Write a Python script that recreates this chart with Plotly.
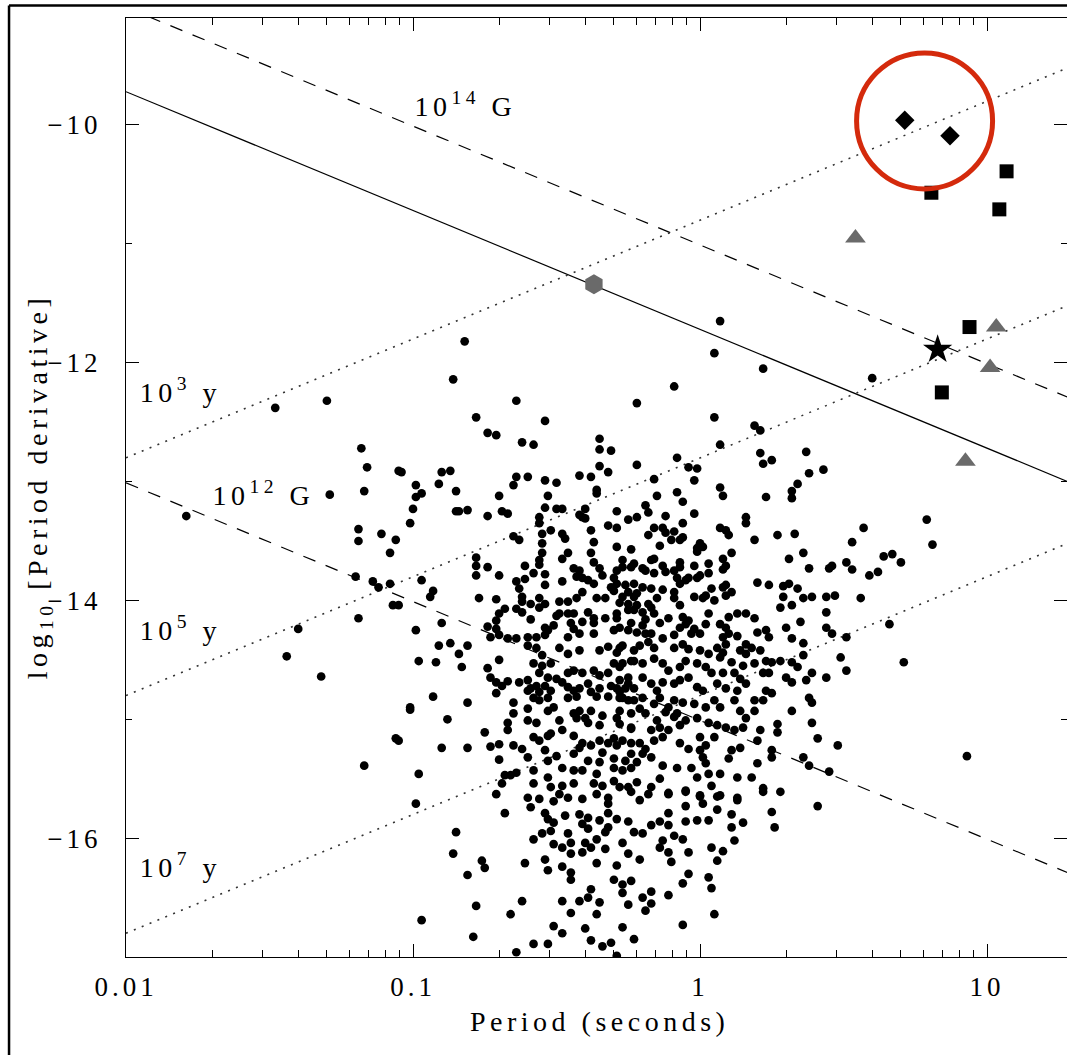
import math
import plotly.graph_objects as go

# ---------------- data (log10 P [s], log10 Pdot) ----------------
pulsars_left = [(-1.30,-12.32),(-1.48,-12.38),(-1.18,-12.72),(-1.16,-12.88),(-1.05,-12.91),(-1.29,-13.11),(-1.17,-13.08),(-1.79,-13.29),(-1.19,-13.40),(-1.11,-13.44),(-1.06,-13.49),(-1.19,-13.50),(-1.08,-13.60),(-1.20,-13.80),(-1.14,-13.84),(-1.12,-13.89),(-1.08,-13.86),(-1.19,-14.15),(-1.40,-14.24),(-1.44,-14.47),(-1.32,-14.64),(-1.07,-14.04),(-1.05,-14.04),(-1.01,-14.90),(-1.06,-15.16),(-1.17,-15.39)]

pulsars_upper = [(-0.82,-11.82),(-0.86,-12.14),(-0.64,-12.32),(-0.78,-12.46),(-0.74,-12.59),(-0.71,-12.61),(-0.54,-12.49),(-0.62,-12.67),(-0.58,-12.69),(-0.35,-12.64),(-0.35,-12.73),(-0.31,-12.74),(-0.35,-12.87),(-1.04,-12.92),
(0.07,-11.65),(0.05,-11.92),(0.22,-12.05),(-0.09,-12.20),(-0.22,-12.34),(0.05,-12.46),(0.19,-12.53),(0.21,-12.57),(0.07,-12.69),(-0.08,-12.80),(-0.22,-12.86),(-0.04,-12.88),(-0.01,-12.89),(0.21,-12.76),(0.22,-12.85),(0.25,-12.82),(0.37,-12.75),(0.38,-12.93),(0.43,-12.90),(-0.16,-12.98),(-0.02,-12.99)]

pulsars_core_nw = [(-0.90,-12.92),(-0.87,-12.91),(-0.99,-13.03),(-0.97,-13.10),(-0.99,-13.13),(-0.91,-13.02),(-0.85,-13.08),(-1.00,-13.23),(-1.01,-13.35),(-0.85,-13.25),(-0.84,-13.25),(-0.81,-13.24),(-0.74,-13.29),(-0.70,-13.12),(-0.69,-13.25),(-0.67,-13.27),(-0.64,-12.96),(-0.60,-12.96),(-0.65,-13.03),(-0.54,-12.99),(-0.50,-13.01),(-0.42,-12.95),(-0.38,-12.96),(-0.32,-12.92),(-0.36,-13.07),(-0.36,-13.10),(-0.53,-13.12),(-0.54,-13.22),(-0.50,-13.23),(-0.48,-13.23),(-0.56,-13.30),(-0.56,-13.35),(-0.42,-13.28),(-0.41,-13.30),(-0.40,-13.23),(-0.40,-13.31),(-0.29,-13.25),(-0.25,-13.32),(-0.32,-13.37),(-0.29,-13.39),(-0.38,-13.41),(-0.37,-13.51),(-0.38,-13.60),(-0.52,-13.41),(-0.48,-13.44),(-0.47,-13.48),(-0.55,-13.44),(-0.55,-13.52),(-0.55,-13.60),(-0.56,-13.66),(-0.56,-13.70),(-0.46,-13.60),(-0.48,-13.65),(-0.65,-13.46),(-0.63,-13.49),(-0.78,-13.64),(-0.78,-13.71),(-0.74,-13.72),(-0.78,-13.79),(-0.70,-13.79),(-0.97,-13.83),(-0.61,-13.71),(-0.58,-13.77),(-0.54,-13.78),(-0.61,-13.82),(-0.64,-13.84),(-0.54,-13.87),(-0.48,-13.84),(-0.44,-13.73),(-0.42,-13.75),(-0.43,-13.80),(-0.41,-13.81),(-0.39,-13.83),(-0.37,-13.68),(-0.35,-13.73),(-0.37,-13.86),(-0.34,-13.79),(-0.30,-13.81),(-0.29,-13.75),(-0.27,-13.72),(-0.29,-13.86),(-0.27,-13.66),(-0.24,-13.57),(-0.24,-13.72),(-0.26,-13.87),(-0.25,-13.93),(-0.29,-13.55),(-0.93,-13.92),(-0.94,-13.97),(-0.77,-13.98),(-0.71,-13.99),(-0.68,-14.07),(-0.70,-14.11),(-0.71,-14.17),(-0.74,-14.22),(-0.71,-14.24),(-0.73,-14.31),(-0.63,-13.90),(-0.62,-13.97),(-0.62,-14.01),(-0.59,-14.03),(-0.56,-13.98),(-0.54,-14.03),(-0.56,-14.06),(-0.64,-14.07),(-0.62,-14.10),(-0.59,-14.16),(-0.54,-14.23),(-0.51,-14.21),(-0.53,-14.25),(-0.49,-14.01),(-0.46,-14.01),(-0.43,-13.98),(-0.49,-14.11),(-0.50,-14.13),(-0.41,-13.93),(-0.36,-13.98),(-0.33,-13.98),(-0.31,-13.89),(-0.30,-13.92),(-0.27,-13.97),(-0.25,-14.03),(-0.28,-14.02),(-0.46,-14.11),(-0.44,-14.11),(-0.39,-14.10),(-0.41,-14.18),(-0.45,-14.19),(-0.44,-14.24),(-0.42,-14.28),(-0.37,-14.19),(-0.37,-14.15),(-0.33,-14.15),(-0.29,-14.11),(-0.29,-14.15),(-0.28,-14.23),(-0.30,-14.25),(-0.25,-14.08),(-0.25,-14.25),(-0.90,-14.19),(-0.99,-14.25),(-0.54,-14.29),(-0.57,-14.31),(-0.60,-14.31),(-0.64,-14.32),(-0.67,-14.32),(-0.70,-14.29)]

pulsars_core_ne = [(0.07,-13.05),(0.08,-13.12),(-0.08,-13.09),(-0.06,-13.17),(-0.15,-13.12),(-0.19,-13.20),(-0.18,-13.26),(-0.22,-13.30),(-0.12,-13.29),(0.23,-13.13),(0.32,-13.08),(0.32,-13.14),(0.34,-13.02),(0.16,-13.30),(0.16,-13.35),(0.07,-13.39),(0.09,-13.41),(0.10,-13.45),(0.19,-13.49),(0.27,-13.45),(0.33,-13.44),(-0.02,-13.27),(-0.06,-13.35),(-0.16,-13.39),(-0.18,-13.45),(-0.13,-13.39),(-0.12,-13.43),(-0.10,-13.49),(-0.09,-13.42),(-0.07,-13.49),(-0.06,-13.47),(-0.14,-13.54),(0.00,-13.52),(-0.01,-13.56),(-0.01,-13.59),(0.01,-13.55),(0.11,-13.60),(0.08,-13.65),(0.09,-13.71),(0.08,-13.74),(0.31,-13.65),(0.36,-13.60),(0.38,-13.73),(0.45,-13.73),(0.46,-13.71),(0.51,-13.68),(-0.23,-13.69),(-0.23,-13.86),(-0.17,-13.66),(-0.16,-13.65),(-0.19,-13.75),(-0.16,-13.77),(-0.20,-13.73),(-0.13,-13.71),(-0.12,-13.76),(-0.07,-13.68),(-0.07,-13.72),(-0.09,-13.75),(-0.02,-13.71),(0.03,-13.69),(0.03,-13.77),(0.00,-13.79),(-0.01,-13.81),(-0.04,-13.81),(-0.05,-13.83),(-0.08,-13.81),(-0.07,-13.86),(-0.20,-13.89),(-0.17,-13.90),(-0.22,-13.94),(-0.23,-13.97),(-0.13,-13.91),(-0.15,-13.98),(-0.09,-13.93),(-0.09,-13.98),(-0.02,-13.97),(0.01,-13.98),(0.02,-13.96),(0.04,-13.90),(0.05,-14.00),(-0.07,-14.04),(0.09,-13.87),(0.11,-13.93),(0.09,-13.96),(0.08,-13.89),(0.20,-13.85),(0.24,-13.87),(0.29,-13.88),(0.31,-13.86),(0.34,-13.90),(0.29,-13.97),(0.28,-14.06),(0.32,-14.04),(0.36,-13.98),(0.39,-13.97),(0.44,-13.97),(0.47,-13.96),(0.44,-14.10),(0.35,-14.18),(0.30,-14.23),(0.44,-14.23),(0.46,-14.28),(0.51,-14.31),(-0.23,-14.08),(-0.22,-14.04),(-0.20,-14.10),(-0.18,-14.03),(-0.17,-14.06),(-0.16,-14.11),(-0.24,-14.19),(-0.20,-14.21),(-0.19,-14.16),(-0.17,-14.28),(-0.19,-14.28),(-0.22,-14.27),(-0.14,-14.19),(-0.11,-14.15),(-0.06,-14.14),(-0.04,-14.17),(-0.02,-14.24),(-0.07,-14.23),(-0.05,-14.20),(-0.03,-14.28),(0.02,-14.20),(0.07,-14.20),(0.10,-14.14),(0.13,-14.11),(0.16,-14.11),(0.19,-14.15),(0.09,-14.23),(0.10,-14.28),(0.13,-14.30),(0.20,-14.27),(0.23,-14.25),(0.24,-14.31),(0.32,-14.32),(0.03,-14.11)]

pulsars_core_sw = [(-0.91,-14.38),(-0.87,-14.36),(-0.81,-14.38),(-0.84,-14.45),(-0.98,-14.51),(-0.92,-14.52),(-0.83,-14.56),(-0.70,-14.50),(-0.74,-14.57),(-0.73,-14.65),(-0.71,-14.69),(-0.69,-14.72),(-0.71,-14.78),(-0.67,-14.68),(-0.93,-14.81),(-0.81,-14.86),(-1.01,-14.92),(-0.88,-15.00),(-0.65,-14.86),(-0.65,-14.95),(-0.67,-15.03),(-0.67,-15.09),(-1.05,-15.18),(-0.90,-15.24),(-0.81,-15.24),(-0.98,-15.46),(-0.75,-15.11),(-0.73,-15.23),(-0.70,-15.21),(-0.65,-15.22),(-0.62,-15.25),(-0.70,-15.34),(-0.68,-15.47),(-0.66,-15.47),(-0.64,-15.45),(-0.69,-15.54),(-0.71,-15.63),(-0.46,-14.31),(-0.37,-14.28),(-0.60,-14.38),(-0.57,-14.40),(-0.55,-14.46),(-0.58,-14.53),(-0.55,-14.55),(-0.52,-14.53),(-0.56,-14.61),(-0.53,-14.65),(-0.50,-14.66),(-0.46,-14.61),(-0.44,-14.59),(-0.41,-14.61),(-0.37,-14.59),(-0.35,-14.63),(-0.32,-14.61),(-0.30,-14.53),(-0.28,-14.56),(-0.25,-14.65),(-0.24,-14.51),(-0.35,-14.42),(-0.32,-14.39),(-0.29,-14.44),(-0.27,-14.38),(-0.42,-14.42),(-0.46,-14.45),(-0.49,-14.40),(-0.63,-14.69),(-0.60,-14.67),(-0.59,-14.74),(-0.60,-14.76),(-0.57,-14.72),(-0.56,-14.77),(-0.54,-14.72),(-0.52,-14.76),(-0.48,-14.69),(-0.46,-14.73),(-0.44,-14.76),(-0.42,-14.74),(-0.39,-14.70),(-0.38,-14.77),(-0.35,-14.74),(-0.31,-14.72),(-0.29,-14.74),(-0.26,-14.74),(-0.58,-14.82),(-0.56,-14.84),(-0.53,-14.82),(-0.51,-14.90),(-0.46,-14.82),(-0.43,-14.81),(-0.36,-14.81),(-0.32,-14.81),(-0.28,-14.82),(-0.25,-14.84),(-0.28,-14.77),(-0.60,-14.91),(-0.60,-15.01),(-0.57,-15.03),(-0.53,-14.93),(-0.49,-15.01),(-0.44,-14.95),(-0.42,-14.93),(-0.43,-14.99),(-0.40,-14.99),(-0.38,-14.93),(-0.39,-15.03),(-0.35,-15.05),(-0.34,-14.97),(-0.29,-14.99),(-0.28,-15.04),(-0.24,-15.07),(-0.58,-15.15),(-0.56,-15.18),(-0.53,-15.14),(-0.52,-15.12),(-0.48,-15.09),(-0.44,-15.14),(-0.41,-15.20),(-0.38,-15.22),(-0.42,-15.24),(-0.35,-15.18),(-0.30,-15.16),(-0.27,-15.18),(-0.24,-15.20),(-0.29,-15.22),(-0.32,-15.20),(-0.60,-15.32),(-0.53,-15.35),(-0.50,-15.31),(-0.54,-15.26),(-0.44,-15.29),(-0.39,-15.35),(-0.35,-15.36),(-0.30,-15.33),(-0.24,-15.29),(-0.34,-15.28),(-0.58,-15.43),(-0.53,-15.49),(-0.48,-15.41),(-0.44,-15.43),(-0.41,-15.43),(-0.36,-15.46),(-0.30,-15.41),(-0.27,-15.43),(-0.24,-15.41),(-0.58,-15.54),(-0.52,-15.57),(-0.48,-15.56),(-0.44,-15.54),(-0.37,-15.54),(-0.34,-15.56),(-0.30,-15.52),(-0.28,-15.57),(-0.25,-15.57),(-0.60,-15.66),(-0.56,-15.67),(-0.46,-15.66),(-0.41,-15.67),(-0.32,-15.66)]

pulsars_core_se = [(-0.13,-14.32),(-0.09,-14.29),(0.00,-14.28),(0.08,-14.31),(0.16,-14.37),(0.36,-14.36),(0.49,-14.48),(0.51,-14.59),(0.44,-14.65),(0.39,-14.61),(0.37,-14.67),(0.32,-14.52),(0.34,-14.56),(0.36,-14.46),(-0.28,-14.40),(-0.23,-14.42),(-0.21,-14.38),(-0.18,-14.35),(-0.16,-14.40),(-0.09,-14.40),(-0.06,-14.37),(-0.04,-14.41),(0.00,-14.42),(0.03,-14.45),(0.06,-14.40),(0.08,-14.44),(0.09,-14.37),(0.07,-14.48),(0.11,-14.52),(0.14,-14.42),(0.16,-14.45),(0.18,-14.40),(0.21,-14.42),(0.23,-14.51),(0.25,-14.52),(0.28,-14.51),(0.22,-14.61),(0.24,-14.61),(0.30,-14.65),(0.32,-14.69),(-0.27,-14.53),(-0.23,-14.51),(-0.20,-14.53),(-0.16,-14.49),(-0.13,-14.53),(-0.11,-14.59),(-0.07,-14.56),(-0.05,-14.51),(-0.01,-14.53),(0.02,-14.56),(0.08,-14.61),(0.12,-14.61),(0.15,-14.55),(0.19,-14.53),(0.14,-14.66),(0.13,-14.76),(0.16,-14.70),(-0.28,-14.67),(-0.25,-14.70),(-0.23,-14.74),(-0.20,-14.65),(-0.17,-14.70),(-0.15,-14.76),(-0.13,-14.69),(-0.09,-14.70),(-0.07,-14.67),(-0.04,-14.65),(-0.01,-14.73),(0.01,-14.76),(0.04,-14.61),(0.06,-14.70),(0.09,-14.74),(0.12,-14.84),(0.19,-14.84),(0.22,-14.84),(0.25,-14.78),(0.23,-14.76),(-0.27,-14.82),(-0.23,-14.84),(-0.20,-14.82),(-0.16,-14.87),(-0.14,-14.82),(-0.11,-14.90),(-0.09,-14.84),(-0.06,-14.86),(-0.02,-14.87),(0.02,-14.90),(0.05,-14.84),(0.07,-14.90),(0.14,-14.93),(0.16,-14.99),(0.19,-14.93),(-0.28,-14.93),(-0.24,-14.95),(-0.21,-14.91),(-0.19,-14.95),(-0.15,-15.01),(-0.12,-14.94),(-0.09,-14.98),(-0.08,-14.95),(-0.05,-15.01),(-0.01,-14.99),(0.03,-15.03),(0.06,-15.05),(0.09,-15.07),(0.12,-15.09),(0.15,-15.07),(-0.24,-15.08),(-0.17,-15.09),(-0.14,-15.07),(-0.11,-15.09),(-0.07,-15.05),(0.00,-15.15),(0.05,-15.15),(-0.21,-15.20),(-0.19,-15.25),(-0.20,-15.29),(-0.16,-15.18),(-0.13,-15.15),(-0.07,-15.20),(-0.04,-15.25),(0.00,-15.26),(0.02,-15.22),(0.01,-15.32),(0.11,-15.26),(0.14,-15.24),(0.20,-15.18),(0.25,-15.26),(0.27,-15.04),(0.32,-14.93),(0.38,-14.82),(0.39,-14.86),(0.39,-15.03),(0.41,-15.16),(0.48,-15.22),(0.27,-15.11),(0.21,-15.09),(-0.26,-15.35),(-0.22,-15.36),(-0.17,-15.32),(-0.13,-15.39),(-0.08,-15.41),(-0.03,-15.41),(0.02,-15.37),(-0.01,-15.49),(0.03,-15.46),(0.07,-15.46),(0.10,-15.33),(0.13,-15.49),(0.18,-15.49),(0.20,-15.37),(0.25,-15.32),(0.36,-15.32),(0.38,-15.39),(0.45,-15.44),(-0.22,-15.53),(-0.17,-15.57),(-0.14,-15.50),(-0.11,-15.62),(-0.05,-15.60),(0.00,-15.64),(0.04,-15.56),(0.07,-15.64),(0.13,-15.66),(0.22,-15.58),(0.28,-15.61)]

pulsars_low_w = [(-0.99,-15.71),(-0.68,-15.79),(-0.85,-15.95),(-0.86,-16.13),(-0.76,-16.19),(-0.75,-16.25),(-0.81,-16.31),(-0.61,-16.21),(-0.78,-16.57),(-0.97,-16.69),(-0.79,-16.83),(-0.66,-16.64),(-0.62,-16.53),(-0.64,-16.96),(-0.59,-15.74),(-0.49,-15.63),(-0.51,-15.69),(-0.36,-15.63),(-0.32,-15.71),(-0.54,-15.79),(-0.53,-15.84),(-0.51,-15.87),(-0.47,-15.81),(-0.42,-15.80),(-0.39,-15.83),(-0.41,-15.88),(-0.39,-15.92),(-0.35,-15.85),(-0.32,-15.79),(-0.32,-15.91),(-0.29,-15.84),(-0.33,-15.95),(-0.25,-15.86),(-0.27,-16.04),(-0.25,-16.13),(-0.55,-15.96),(-0.52,-15.94),(-0.51,-16.05),(-0.58,-16.01),(-0.46,-15.96),(-0.45,-16.04),(-0.48,-16.08),(-0.45,-16.13),(-0.41,-16.12),(-0.40,-16.04),(-0.38,-16.08),(-0.36,-16.01),(-0.33,-16.09),(-0.36,-16.21),(-0.29,-16.23),(-0.54,-16.18),(-0.53,-16.27),(-0.48,-16.24),(-0.45,-16.29),(-0.45,-16.35),(-0.30,-16.35),(-0.27,-16.39),(-0.27,-16.46),(-0.38,-16.43),(-0.39,-16.50),(-0.35,-16.54),(-0.42,-16.53),(-0.48,-16.53),(-0.45,-16.63),(-0.36,-16.64),(-0.25,-16.56),(-0.51,-16.74),(-0.48,-16.80),(-0.40,-16.76),(-0.38,-16.86),(-0.34,-16.91),(-0.31,-16.88),(-0.29,-16.99),(-0.27,-16.75),(-0.58,-16.89),(-0.53,-16.89)]

pulsars_low_e = [(-0.24,-15.61),(-0.18,-15.63),(-0.11,-15.63),(-0.21,-15.68),(-0.05,-15.61),(0.00,-15.65),(0.01,-15.71),(0.06,-15.65),(0.13,-15.68),(0.06,-15.76),(0.22,-15.61),(0.41,-15.73),(0.25,-15.78),(0.26,-15.91),(0.11,-15.80),(0.15,-15.87),(0.11,-15.91),(0.12,-16.02),(-0.11,-15.79),(-0.11,-15.89),(-0.14,-15.86),(-0.05,-15.86),(-0.01,-15.85),(0.03,-15.85),(-0.05,-15.73),(-0.23,-15.95),(-0.20,-15.96),(-0.17,-15.89),(-0.09,-15.98),(-0.06,-16.01),(-0.13,-16.02),(-0.14,-16.08),(-0.11,-16.12),(-0.10,-16.20),(-0.04,-16.12),(-0.21,-16.18),(0.04,-16.08),(0.08,-16.11),(0.06,-16.19),(-0.04,-16.30),(-0.06,-16.38),(0.03,-16.33),(0.04,-16.42),(-0.24,-16.36),(-0.17,-16.45),(-0.20,-16.50),(-0.17,-16.55),(-0.19,-16.61),(-0.11,-16.48),(0.05,-16.64),(-0.06,-16.73),(-0.23,-16.85)]

pulsars_right = [(0.60,-12.13),(0.79,-13.32),(0.57,-13.39),(0.81,-13.53),(0.53,-13.51),(0.53,-13.74),(0.59,-13.79),(0.62,-13.76),(0.64,-13.63),(0.67,-13.61),(0.70,-13.68),(0.56,-13.98),(0.66,-14.20),(0.71,-14.52),(0.93,-15.31)]

# Special objects (period in s, log10 Pdot)
sgr_period = [5.17, 7.43]
sgr_logpdot = [-9.96, -10.09]
axp_period = [6.40, 11.70, 11.04, 8.69, 6.96]
axp_logpdot = [-10.57, -10.39, -10.71, -11.70, -12.25]
star_period = [6.73]
star_logpdot = [-11.89]
tri_period = [3.48, 10.77, 10.25, 8.41]
tri_logpdot = [-10.95, -11.70, -12.04, -12.83]
hex_period = [0.427]
hex_logpdot = [-11.34]
highlight_period = [6.06]
highlight_logpdot = [-9.966]

# Reference lines: values of log10 Pdot at P = 0.01 s and P = 20 s
line_period = [0.01, 20.0]
field_1e14 = [-9.01, -12.31]
field_crit = [-9.72, -13.02]
field_1e12 = [-13.01, -16.31]
age_1e3 = [-12.80, -9.50]
age_1e5 = [-14.80, -11.50]
age_1e7 = [-16.80, -13.50]

# ---------------- figure ----------------
groups = [pulsars_left, pulsars_upper, pulsars_core_nw, pulsars_core_ne,
          pulsars_core_sw, pulsars_core_se, pulsars_low_w, pulsars_low_e, pulsars_right]
psr_period = [10 ** lp for g in groups for lp, _ in g]
psr_logpdot = [lpd for g in groups for _, lpd in g]

FONT = "Liberation Serif"
GRAY = "#6a6a6a"
fig = go.Figure()

def add_line(yvals, dash, width=1.2, color="black"):
    fig.add_trace(go.Scatter(x=line_period, y=yvals, mode="lines",
                             line=dict(color=color, width=width, dash=dash),
                             hoverinfo="skip"))

add_line(field_1e14, "13px,11px")
add_line(field_crit, "solid")
add_line(field_1e12, "13px,11px")
for a in (age_1e3, age_1e5, age_1e7):
    add_line(a, "2px,6.5px", width=1.6, color="#333333")

fig.add_trace(go.Scatter(x=psr_period, y=psr_logpdot, mode="markers",
                         marker=dict(size=8.7, color="black", line=dict(width=0))))
fig.add_trace(go.Scatter(x=hex_period, y=hex_logpdot, mode="markers",
                         marker=dict(symbol="hexagon", size=20, color=GRAY, line=dict(width=0))))
fig.add_trace(go.Scatter(x=tri_period, y=tri_logpdot, mode="markers",
                         marker=dict(symbol="triangle-up", size=18, color=GRAY, line=dict(width=0))))
fig.add_trace(go.Scatter(x=axp_period, y=axp_logpdot, mode="markers",
                         marker=dict(symbol="square", size=14, color="black", line=dict(width=0))))
fig.add_trace(go.Scatter(x=star_period, y=star_logpdot, mode="markers",
                         marker=dict(symbol="star", size=22, color="black", line=dict(width=0))))
fig.add_trace(go.Scatter(x=sgr_period, y=sgr_logpdot, mode="markers",
                         marker=dict(symbol="diamond", size=15, color="black", line=dict(width=0))))
fig.add_trace(go.Scatter(x=highlight_period, y=highlight_logpdot, mode="markers",
                         marker=dict(symbol="circle-open", size=136, color="#d42a0c",
                                     line=dict(width=5, color="#d42a0c"))))

tickfont = dict(family=FONT, size=27, color="black")
minor_x = [m * d for d in (0.01, 0.1, 1) for m in range(2, 10)]
fig.update_xaxes(type="log", range=[-2, 1.2787], showgrid=False, zeroline=False,
                 showline=True, linecolor="black", linewidth=1, mirror="ticks",
                 ticks="inside", ticklen=13, tickwidth=1, tickcolor="black",
                 tickvals=[0.01, 0.1, 1, 10], ticktext=["0.01", "0.1", "1", "10"],
                 tickfont=tickfont, ticklabelstandoff=6,
                 minor=dict(ticks="inside", ticklen=7, tickwidth=1, tickcolor="black",
                            tickvals=minor_x, showgrid=False))
fig.update_yaxes(range=[-17, -9.1], showgrid=False, zeroline=False,
                 showline=True, linecolor="black", linewidth=1, mirror="ticks",
                 ticks="inside", ticklen=13, tickwidth=1, tickcolor="black",
                 tickvals=[-16, -14, -12, -10], ticktext=["\u221216", "\u221214", "\u221212", "\u221210"],
                 tickfont=tickfont, ticklabelstandoff=18,
                 minor=dict(ticks="inside", ticklen=6, tickwidth=1, tickcolor="black",
                            tickvals=[-17, -15, -13, -11], showgrid=False))

lab = dict(family=FONT, size=28, color="black")
annotations = [
    dict(x=-0.955, y=-9.83, text="10<sup>14</sup> G"),
    dict(x=-1.92, y=-12.23, text="10<sup>3</sup> y"),
    dict(x=-1.66, y=-13.10, text="10<sup>12</sup> G"),
    dict(x=-1.92, y=-14.24, text="10<sup>5</sup> y"),
    dict(x=-1.92, y=-16.23, text="10<sup>7</sup> y"),
]
for a in annotations:
    a.update(xref="x", yref="y", xanchor="left", yanchor="middle", showarrow=False, font=lab)
annotations.append(dict(xref="paper", yref="paper", x=0.5027, y=-0.0692, text="Period (seconds)",
                        showarrow=False, xanchor="center", yanchor="middle", font=lab))
annotations.append(dict(xref="paper", yref="paper", x=-0.0914, y=0.5016,
                        text="log<sub>10</sub> [Period derivative]", textangle=-90,
                        showarrow=False, xanchor="center", yanchor="middle", font=lab))

shapes = [
    dict(type="line", xref="paper", yref="paper", x0=-0.1243, x1=1.01, y0=1.0133, y1=1.0133,
         line=dict(color="black", width=2.5)),
    dict(type="line", xref="paper", yref="paper", x0=-0.1243, x1=-0.1243, y0=1.0133, y1=-0.12,
         line=dict(color="black", width=2.5)),
]

fig.update_layout(width=1067, height=1055, autosize=False, showlegend=False,
                  margin=dict(l=126, r=0, t=18, b=98, pad=0),
                  paper_bgcolor="white", plot_bgcolor="white",
                  annotations=annotations, shapes=shapes,
                  font=dict(family=FONT, color="black"))

post = ("document.documentElement.style.margin='0';document.body.style.margin='0';"
        "document.documentElement.style.overflow='hidden';document.body.style.overflow='hidden';"
        "document.querySelectorAll('.xtick text, .ytick text').forEach(t=>t.style.letterSpacing='4px');"
        "document.querySelectorAll('.annotation-text').forEach(t=>t.style.letterSpacing='4.5px');")
fig.write_html("out.html", post_script=post, config={"displayModeBar": False})
